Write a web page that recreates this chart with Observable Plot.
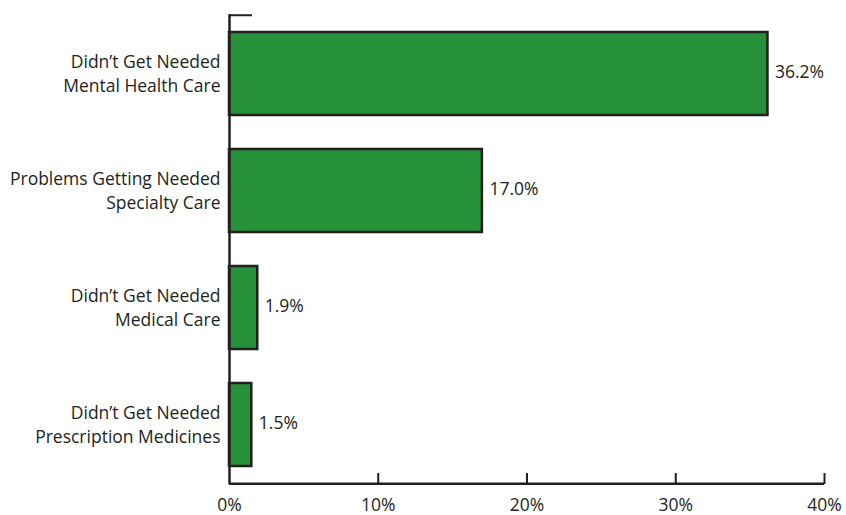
<!DOCTYPE html>
<html>
<head>
<meta charset="utf-8">
<script src="https://cdn.jsdelivr.net/npm/d3@7"></script>
<script src="https://cdn.jsdelivr.net/npm/@observablehq/plot@0.6"></script>
<style>
  html, body { margin: 0; padding: 0; background: #ffffff; }
  #chart svg { display: block; }
</style>
</head>
<body>
<div id="chart"></div>
<script>
const categories = [
  "Didn\u2019t Get Needed\nMental Health Care",
  "Problems Getting Needed\nSpecialty Care",
  "Didn\u2019t Get Needed\nMedical Care",
  "Didn\u2019t Get Needed\nPrescription Medicines"
];
const values = [36.2, 17.0, 1.9, 1.5];
const xTicks = [0, 10, 20, 30, 40];

const data = categories.map((c, i) => ({category: c, value: values[i]}));

const W = 846, H = 515;
const mTop = 14, mBottom = 31, mLeft = 229, mRight = 22;
const innerH = H - mTop - mBottom;
const innerW = W - mLeft - mRight;
const band = innerH / categories.length;
const ink = "#231f20";

const chart = Plot.plot({
  width: W,
  height: H,
  marginTop: mTop,
  marginBottom: mBottom,
  marginLeft: mLeft,
  marginRight: mRight,
  style: {fontFamily: "'Open Sans', sans-serif", fontSize: "17.5px", color: ink, background: "#ffffff"},
  x: {domain: [xTicks[0], xTicks[xTicks.length - 1]], ticks: xTicks, tickFormat: d => d + "%", tickSize: 0, tickPadding: 14, label: null},
  y: {domain: categories, padding: 0, axis: null, label: null},
  marks: [
    Plot.barX(data, {x: "value", y: "category", fill: "#279139", stroke: ink, strokeWidth: 2.5, insetTop: 17, insetBottom: 17}),
    Plot.ruleX([xTicks[0]], {stroke: ink, strokeWidth: 2.5}),
    Plot.ruleX(xTicks.slice(1), {x: d => d, stroke: ink, strokeWidth: 2, insetTop: innerH - 11}),
    Plot.ruleY([categories[categories.length - 1]], {y: d => d, x1: xTicks[0], x2: xTicks[xTicks.length - 1], dy: band / 2, stroke: ink, strokeWidth: 2.5}),
    Plot.ruleY([categories[0]], {y: d => d, x1: xTicks[0], x2: xTicks[xTicks.length - 1], dy: -band / 2, insetRight: innerW - 23, stroke: ink, strokeWidth: 2}),
    Plot.text(data, {x: "value", y: "category", text: d => d.value.toFixed(1) + "%", textAnchor: "start", dx: 7, dy: -2, fill: ink}),
    Plot.text(categories, {y: d => d, frameAnchor: "left", textAnchor: "end", dx: -9, dy: -2, lineHeight: 1.38, fill: ink})
  ]
});
document.getElementById("chart").appendChild(chart);
</script>
</body>
</html>
